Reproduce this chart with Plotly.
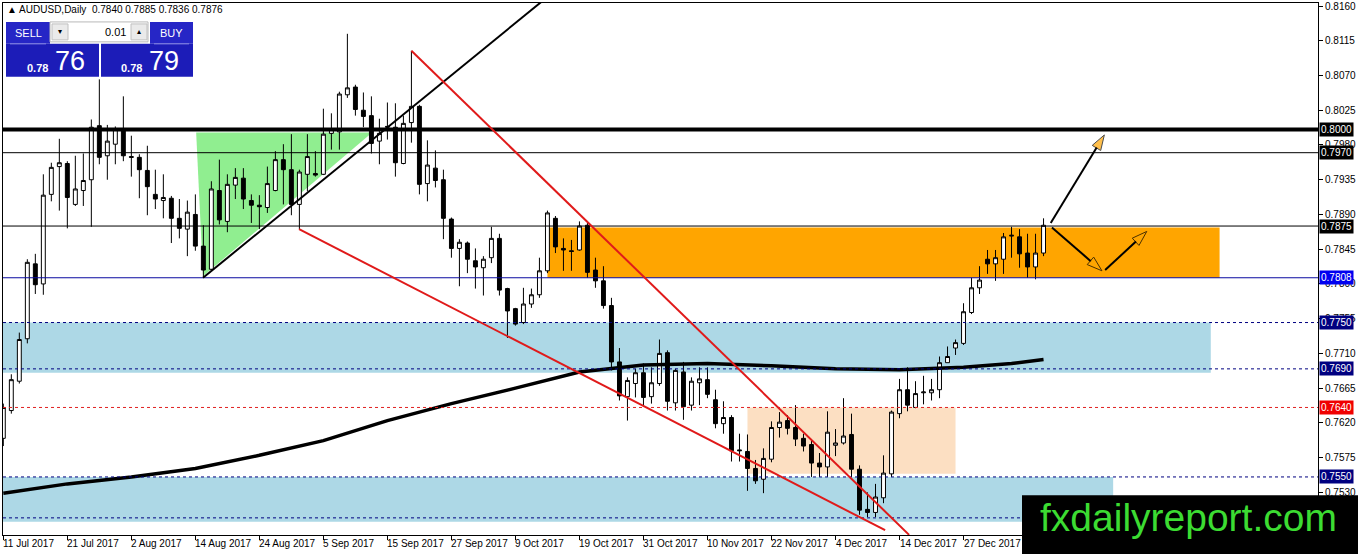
#!/usr/bin/env python3
"""
AUDUSD daily chart with support / resistance markup, rebuilt with plotly
"""

import plotly.graph_objects as go

# daily bars, bar index 0 = 11 Jul 2017, last bar = 10 Jan 2018
opens = [0.7600, 0.7636, 0.7674, 0.7729, 0.7826, 0.7800, 0.7916, 0.7952, 0.7956, 0.7903,
         0.7921, 0.7935, 0.8005, 0.7966, 0.7981, 0.8000, 0.7965, 0.7964, 0.7947, 0.7916,
         0.7908, 0.7911, 0.7885, 0.7871, 0.7890, 0.7849, 0.7819, 0.7921, 0.7881, 0.7928,
         0.7937, 0.7908, 0.7902, 0.7899, 0.7921, 0.7961, 0.7948, 0.7903, 0.7942, 0.7943,
         0.7942, 0.7995, 0.7997, 0.8045, 0.8055, 0.8025, 0.8018, 0.7985, 0.8003, 0.8003,
         0.7956, 0.8009, 0.8030, 0.7930, 0.7950, 0.7935, 0.7884, 0.7846, 0.7853, 0.7830,
         0.7821, 0.7834, 0.7859, 0.7794, 0.7768, 0.7750, 0.7774, 0.7786, 0.7817, 0.7885,
         0.7846, 0.7843, 0.7844, 0.7876, 0.7818, 0.7804, 0.7772, 0.7699, 0.7654, 0.7671,
         0.7685, 0.7654, 0.7671, 0.7711, 0.7646, 0.7686, 0.7643, 0.7672, 0.7676, 0.7650,
         0.7619, 0.7627, 0.7585, 0.7583, 0.7561, 0.7547, 0.7573, 0.7614, 0.7623, 0.7614,
         0.7600, 0.7592, 0.7568, 0.7563, 0.7591, 0.7594, 0.7605, 0.7560, 0.7508, 0.7504,
         0.7523, 0.7554, 0.7632, 0.7663, 0.7640, 0.7659, 0.7659, 0.7663, 0.7698, 0.7717,
         0.7723, 0.7763, 0.7795, 0.7832, 0.7826, 0.7832, 0.7862, 0.7861, 0.7840, 0.7822,
         0.7840]
highs = [0.7645, 0.7683, 0.7737, 0.7832, 0.7839, 0.7942, 0.7957, 0.7988, 0.7959, 0.7966,
         0.7969, 0.8013, 0.8065, 0.8006, 0.8004, 0.8043, 0.7992, 0.7968, 0.7979, 0.7948,
         0.7942, 0.7914, 0.7910, 0.7908, 0.7916, 0.7876, 0.7933, 0.7961, 0.7942, 0.7950,
         0.7950, 0.7916, 0.7915, 0.7952, 0.7972, 0.7981, 0.7994, 0.7948, 0.7994, 0.7972,
         0.8027, 0.8021, 0.8049, 0.8124, 0.8058, 0.8048, 0.8043, 0.8014, 0.8035, 0.8034,
         0.8018, 0.8102, 0.8032, 0.7986, 0.7973, 0.7948, 0.7886, 0.7858, 0.7855, 0.7846,
         0.7836, 0.7874, 0.7865, 0.7795, 0.7769, 0.7795, 0.7794, 0.7834, 0.7895, 0.7888,
         0.7859, 0.7857, 0.7881, 0.7879, 0.7834, 0.7823, 0.7782, 0.7717, 0.7679, 0.7690,
         0.7697, 0.7692, 0.7728, 0.7714, 0.7690, 0.7699, 0.7679, 0.7692, 0.7692, 0.7663,
         0.7648, 0.7630, 0.7606, 0.7605, 0.7572, 0.7587, 0.7622, 0.7634, 0.7630, 0.7643,
         0.7606, 0.7597, 0.7581, 0.7635, 0.7612, 0.7652, 0.7632, 0.7565, 0.7530, 0.7541,
         0.7578, 0.7636, 0.7677, 0.7692, 0.7674, 0.7681, 0.7677, 0.7706, 0.7719, 0.7728,
         0.7775, 0.7808, 0.7823, 0.7844, 0.7844, 0.7866, 0.7874, 0.7871, 0.7865, 0.7865,
         0.7885]
lows = [0.7590, 0.7632, 0.7671, 0.7723, 0.7787, 0.7786, 0.7907, 0.7895, 0.7872, 0.7901,
        0.7901, 0.7874, 0.7955, 0.7935, 0.7955, 0.7959, 0.7939, 0.7911, 0.7889, 0.7897,
        0.7885, 0.7853, 0.7859, 0.7836, 0.7843, 0.7808, 0.7817, 0.7877, 0.7867, 0.7910,
        0.7897, 0.7879, 0.7871, 0.7892, 0.7920, 0.7903, 0.7889, 0.7871, 0.7920, 0.7939,
        0.7941, 0.7974, 0.7974, 0.8041, 0.8018, 0.8003, 0.7969, 0.7955, 0.7987, 0.7939,
        0.7955, 0.7983, 0.7916, 0.7907, 0.7925, 0.7858, 0.7834, 0.7797, 0.7814, 0.7794,
        0.7785, 0.7827, 0.7785, 0.7730, 0.7746, 0.7748, 0.7769, 0.7782, 0.7814, 0.7840,
        0.7817, 0.7817, 0.7843, 0.7808, 0.7795, 0.7768, 0.7688, 0.7649, 0.7623, 0.7653,
        0.7643, 0.7645, 0.7668, 0.7636, 0.7636, 0.7624, 0.7636, 0.7643, 0.7652, 0.7613,
        0.7606, 0.7570, 0.7570, 0.7532, 0.7541, 0.7529, 0.7569, 0.7601, 0.7605, 0.7590,
        0.7583, 0.7550, 0.7550, 0.7550, 0.7577, 0.7592, 0.7550, 0.7501, 0.7498, 0.7498,
        0.7516, 0.7550, 0.7626, 0.7635, 0.7639, 0.7644, 0.7649, 0.7652, 0.7698, 0.7708,
        0.7721, 0.7761, 0.7787, 0.7813, 0.7804, 0.7813, 0.7834, 0.7821, 0.7808, 0.7806,
        0.7836]
closes = [0.7640, 0.7676, 0.7728, 0.7828, 0.7799, 0.7915, 0.7951, 0.7957, 0.7912, 0.7923,
          0.7934, 0.8003, 0.7964, 0.7985, 0.8000, 0.7966, 0.7964, 0.7948, 0.7926, 0.7910,
          0.7912, 0.7885, 0.7872, 0.7893, 0.7849, 0.7818, 0.7923, 0.7883, 0.7929, 0.7938,
          0.7910, 0.7902, 0.7900, 0.7930, 0.7961, 0.7948, 0.7903, 0.7945, 0.7965, 0.7941,
          0.7994, 0.8001, 0.8046, 0.8054, 0.8026, 0.8017, 0.7982, 0.7995, 0.8004, 0.7957,
          0.8008, 0.8030, 0.7929, 0.7954, 0.7934, 0.7885, 0.7846, 0.7854, 0.7832, 0.7822,
          0.7832, 0.7859, 0.7792, 0.7765, 0.7748, 0.7774, 0.7786, 0.7817, 0.7892, 0.7848,
          0.7844, 0.7842, 0.7875, 0.7815, 0.7804, 0.7772, 0.7699, 0.7655, 0.7675, 0.7685,
          0.7653, 0.7672, 0.7710, 0.7648, 0.7688, 0.7641, 0.7674, 0.7677, 0.7657, 0.7619,
          0.7627, 0.7584, 0.7584, 0.7561, 0.7545, 0.7574, 0.7614, 0.7621, 0.7613, 0.7599,
          0.7590, 0.7568, 0.7563, 0.7608, 0.7594, 0.7603, 0.7560, 0.7507, 0.7504, 0.7524,
          0.7555, 0.7634, 0.7663, 0.7643, 0.7658, 0.7660, 0.7663, 0.7698, 0.7706, 0.7724,
          0.7764, 0.7795, 0.7805, 0.7826, 0.7834, 0.7861, 0.7863, 0.7839, 0.7822, 0.7840,
          0.7876]
bars = list(range(len(opens)))

# date axis: one label every 8 bars
date_bars = [0, 8, 16, 24, 32, 40, 48, 56, 64, 72, 80, 88, 96, 104, 112, 120]
date_labels = ["11 Jul 2017", "21 Jul 2017", "2 Aug 2017", "14 Aug 2017", "24 Aug 2017",
               "5 Sep 2017", "15 Sep 2017", "27 Sep 2017", "9 Oct 2017", "19 Oct 2017",
               "31 Oct 2017", "10 Nov 2017", "22 Nov 2017", "4 Dec 2017", "14 Dec 2017",
               "27 Dec 2017"]

ma_bars = [0, 8, 16, 24, 32, 40, 48, 56, 64, 72, 80, 88, 96, 104, 112, 120, 126, 130]
ma_values = [0.7529, 0.7541, 0.7550, 0.7561, 0.7578, 0.7597, 0.7623, 0.7645, 0.7665,
             0.7686, 0.7695, 0.7697, 0.7694, 0.7690, 0.7689, 0.7692, 0.7697, 0.7702]

price_ticks = [0.8160, 0.8115, 0.8070, 0.8025, 0.7980, 0.7935, 0.7890, 0.7845, 0.7800,
               0.7755, 0.7710, 0.7665, 0.7620, 0.7575, 0.7530]

# horizontal levels
level_major = 0.8000
levels_solid = [0.7970, 0.7875]
level_blue = 0.7808
levels_dashed = [0.7750, 0.7690, 0.7550, 0.7497]
level_red = 0.7640
tagged_levels = [0.8000, 0.7970, 0.7875, 0.7808, 0.7750, 0.7690, 0.7640, 0.7550]

# zones: (bar from, bar to, price low, price high)
orange_zone = [68.0, 152.0, 0.7808, 0.7873]
blue_zone_top = [-1.0, 150.9, 0.7685, 0.7750]
blue_zone_low = [-1.0, 138.7, 0.7492, 0.7550]
peach_zone = [93.0, 119.0, 0.7554, 0.7640]

# triangle and trend lines
tri_bars = [24.1, 24.96, 46.1]
tri_prices = [0.7996, 0.7810, 0.7996]
black_trend = [(24.96, 0.7808), (67.2, 0.8165)]
red_upper = [(51.0, 0.8102), (113.2, 0.7475)]
red_lower = [(36.96, 0.7871), (110.2, 0.7481)]

# projection arrows
arrow_up = [(130.9, 0.7879), (137.6, 0.7993)]
arrow_down = [(131.05, 0.7873), (137.3, 0.7817)]
arrow_rebound = [(137.7, 0.7818), (142.9, 0.7868)]

FONT = "Liberation Sans"
PLOT_L, PLOT_R, PLOT_T, PLOT_B = 3, 1318, 1, 535


def px(x):
    return (x - PLOT_L) / (PLOT_R - PLOT_L)


def py(y):
    return (PLOT_B - y) / (PLOT_B - PLOT_T)


def zone(z, color):
    return dict(type="rect", xref="x", yref="y", x0=z[0], x1=z[1], y0=z[2], y1=z[3],
                fillcolor=color, line=dict(width=0), layer="below")


def hline(v, color, width=1, dash="solid"):
    return dict(type="line", xref="paper", yref="y", x0=0, x1=1, y0=v, y1=v,
                line=dict(color=color, width=width, dash=dash), layer="above")


def seg(pts, color, width):
    (x0, y0), (x1, y1) = pts
    return dict(type="line", xref="x", yref="y", x0=x0, y0=y0, x1=x1, y1=y1,
                line=dict(color=color, width=width), layer="above")


def prect(x0, y0, x1, y1, fill, line_color=None):
    return dict(type="rect", xref="paper", yref="paper", x0=px(x0), x1=px(x1),
                y0=py(y1), y1=py(y0), fillcolor=fill,
                line=dict(color=line_color or fill, width=1 if line_color else 0),
                layer="above")


def ptext(x, y, text, size, color="white", anchor="center", bold=False):
    if bold:
        text = f"<b>{text}</b>"
    return dict(xref="paper", yref="paper", x=px(x), y=py(y), text=text,
                showarrow=False, xanchor=anchor, yanchor="middle",
                font=dict(family=FONT, size=size, color=color))


fig = go.Figure()

fig.add_trace(go.Candlestick(
    x=bars, open=opens, high=highs, low=lows, close=closes,
    increasing=dict(line=dict(color="black", width=1), fillcolor="white"),
    decreasing=dict(line=dict(color="black", width=1), fillcolor="black"),
    whiskerwidth=0, showlegend=False,
))

fig.add_trace(go.Scatter(
    x=ma_bars, y=ma_values, mode="lines", line=dict(color="black", width=3.5),
    showlegend=False, hoverinfo="skip",
))

# arrows with orange heads
for pts in [arrow_up, arrow_down, arrow_rebound]:
    fig.add_trace(go.Scatter(
        x=[p[0] for p in pts], y=[p[1] for p in pts], mode="lines+markers",
        line=dict(color="black", width=2),
        marker=dict(symbol="arrow", angleref="previous", size=[0, 16],
                    color="#FFA500", line=dict(color="black", width=1)),
        showlegend=False, hoverinfo="skip",
    ))

shapes = [
    zone(blue_zone_top, "#ADD8E6"),
    zone(blue_zone_low, "#ADD8E6"),
    zone(orange_zone, "#FFA500"),
    zone(peach_zone, "#FCDFC2"),
    dict(type="path", xref="x", yref="y", layer="below", fillcolor="#90EE90",
         line=dict(width=0),
         path="M {} {} L {} {} L {} {} Z".format(tri_bars[0], tri_prices[0],
                                                  tri_bars[1], tri_prices[1],
                                                  tri_bars[2], tri_prices[2])),
    hline(level_major, "black", width=4),
    hline(level_blue, "#0A0AA0"),
    hline(level_red, "#E02020", dash="3px,3px"),
]
shapes += [hline(v, "black") for v in levels_solid]
shapes += [hline(v, "#000080", dash="3px,3px") for v in levels_dashed]
shapes += [
    seg(black_trend, "black", 2),
    seg(red_upper, "#E01A1A", 2),
    seg(red_lower, "#E01A1A", 2),
]

# one-click trading panel
shapes += [
    prect(6, 20, 50, 42, "#2626C6"),
    prect(150, 20, 193, 42, "#2626C6"),
    prect(6, 42, 99, 75, "#1C1CB8"),
    prect(101, 42, 193, 75, "#1C1CB8"),
    prect(50, 20, 148, 40, "white", "#B8B8B8"),
    prect(52, 22, 68, 38, "#EAEAEA", "#C0C0C0"),
    prect(131, 22, 147, 38, "#EAEAEA", "#C0C0C0"),
    dict(type="line", xref="paper", yref="paper", x0=px(10), x1=px(46), y0=py(42), y1=py(42),
         line=dict(color="#8A8AE6", width=1), layer="above"),
    dict(type="line", xref="paper", yref="paper", x0=px(154), x1=px(189), y0=py(42), y1=py(42),
         line=dict(color="#8A8AE6", width=1), layer="above"),
]

# watermark box over the bottom right corner
shapes.append(dict(type="rect", xref="paper", yref="paper", x0=px(1022), x1=px(1360),
                   y0=py(556), y1=py(495), fillcolor="black", line=dict(width=0),
                   layer="above"))

annotations = []

# date labels sit to the right of their tick
for b, lab in zip(date_bars, date_labels):
    annotations.append(dict(x=b, y=0, xref="x", yref="paper", text=lab, showarrow=False,
                            xanchor="left", yanchor="top", xshift=-2, yshift=-1,
                            font=dict(family=FONT, size=10, color="black")))

tag_colors = {0.8000: "black", 0.7970: "black", 0.7875: "black", 0.7808: "#0000F0",
              0.7750: "#000080", 0.7690: "#000080", 0.7640: "#F00000", 0.7550: "#000080"}
for v in tagged_levels:
    annotations.append(dict(x=1, y=v, xref="paper", yref="y", text=f"{v:.4f}",
                            showarrow=False, xanchor="left", yanchor="middle", xshift=1,
                            bgcolor=tag_colors[v], borderpad=1,
                            font=dict(family=FONT, size=10, color="white")))

annotations += [
    ptext(5, 8, "▲ AUDUSD,Daily  0.7840 0.7885 0.7836 0.7876", 10, "black", "left"),
    ptext(28, 31, "SELL", 11),
    ptext(171, 31, "BUY", 11),
    ptext(128, 30, "0.01", 11, "black", "right"),
    ptext(60, 30, "▾", 8, "black"),
    ptext(139, 30, "▴", 8, "black"),
    ptext(37, 66, "0.78", 11, bold=True),
    ptext(70, 59, "76", 27),
    ptext(131, 66, "0.78", 11, bold=True),
    ptext(164, 59, "79", 27),
    ptext(1188, 517, "fxdailyreport.com", 39, "#3CDC32"),
]

fig.update_layout(
    width=1358, height=554,
    margin=dict(l=PLOT_L, r=1358 - PLOT_R, t=PLOT_T, b=554 - PLOT_B),
    paper_bgcolor="white", plot_bgcolor="white",
    shapes=shapes, annotations=annotations,
    font=dict(family=FONT, size=10, color="black"),
    xaxis=dict(range=[-0.04, 164.3], rangeslider=dict(visible=False), showgrid=False,
               zeroline=False, showline=True, mirror=True, linecolor="black", linewidth=1,
               tickvals=date_bars, showticklabels=False, ticks="outside", ticklen=4,
               tickcolor="black"),
    yaxis=dict(range=[0.74748, 0.81639], side="right", showgrid=False, zeroline=False,
               showline=True, mirror=True, linecolor="black", linewidth=1,
               tickvals=price_ticks, ticktext=[f"{v:.4f}" for v in price_ticks],
               ticks="outside", ticklen=4, tickcolor="black", ticklabeloverflow="allow",
               tickfont=dict(family=FONT, size=10, color="black")),
    hovermode=False,
)

fig.write_html("out.html", config={"displayModeBar": False},
               post_script="document.body.style.margin='0';")
